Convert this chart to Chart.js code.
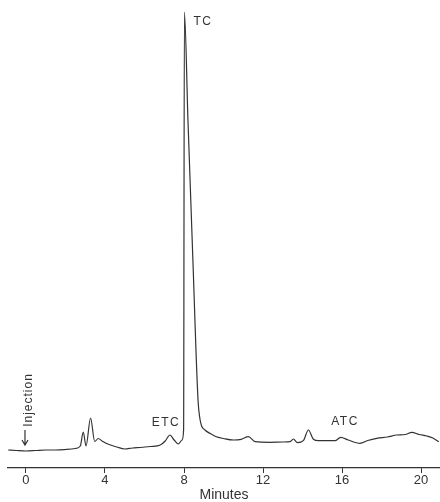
<!DOCTYPE html>
<html>
<head>
<meta charset="utf-8">
<script src="https://cdn.jsdelivr.net/npm/chart.js@4/dist/chart.umd.min.js"></script>
<style>
  html, body { margin: 0; padding: 0; background: #fff; }
  #wrap { width: 440px; height: 502px; }
</style>
</head>
<body>
<div id="wrap"><canvas id="chrom"></canvas></div>
<script>
// ********************* data ***********************
const minutes = [
  -0.9, -0.5, 0, 0.5, 1.0, 1.5, 2.0, 2.5, 2.75, 2.9, 3.04, 3.27, 3.48, 3.66, 3.85,
  4.08, 4.6, 5.0, 5.4, 5.8, 6.3, 6.8, 7.05, 7.29, 7.5, 7.71, 7.9, 7.98, 8.02,
  8.2, 8.45, 8.71, 8.8, 8.89, 9.06, 9.32, 9.6, 10.0, 10.5, 10.9, 11.26, 11.6, 12.35,
  13.0, 13.37, 13.54, 13.74, 14.04, 14.3, 14.55, 14.8, 15.65, 15.93, 16.32,
  16.91, 17.3, 17.76, 18.3, 18.77, 19.2, 19.53, 19.9, 20.29, 20.6, 20.9
];
const response = [
  18, 17.5, 17, 17.5, 18, 18, 18.5, 19.5, 22, 36, 22, 50, 26.5, 29.5, 27,
  24.5, 21, 19, 20, 20.5, 21.5, 23, 27, 33, 28, 24, 28, 38, 456,
  348, 208, 68, 50, 42, 38, 34.5, 31.5, 29.5, 28, 28.7, 31.3, 26.3, 25.7,
  26, 26.3, 29, 25.3, 27.3, 38, 28.7, 27.3, 27.3, 30.7, 28,
  24.7, 27.5, 29.7, 31, 33, 33.5, 35.7, 33.5, 32, 30, 26.3
];
const tickMinutes = [0, 4, 8, 12, 16, 20];

// peak labels
const peakNames = ['TC', 'ETC', 'ATC'];
const peakTimes = [8.96, 7.09, 16.15];
const peakLabelLevel = [446, 45, 46];

const points = minutes.map((t, i) => ({ x: t, y: response[i] }));

const ink = '#333333';
const labelFont = '"Liberation Sans", Arial, sans-serif';

// ********************* labels plugin ***********************
const peakLabels = {
  id: 'peakLabels',
  afterDatasetsDraw(chart) {
    const ctx = chart.ctx;
    const xs = chart.scales.x;
    const ys = chart.scales.y;
    ctx.save();
    ctx.fillStyle = ink;
    ctx.strokeStyle = ink;
    ctx.font = '12px ' + labelFont;
    ctx.letterSpacing = '1.5px';
    ctx.textAlign = 'center';
    ctx.textBaseline = 'middle';
    peakNames.forEach((name, i) => {
      ctx.fillText(name, xs.getPixelForValue(peakTimes[i]), ys.getPixelForValue(peakLabelLevel[i]));
    });

    // injection mark
    ctx.save();
    ctx.translate(xs.getPixelForValue(0.15), ys.getPixelForValue(68));
    ctx.rotate(-Math.PI / 2);
    ctx.letterSpacing = '1px';
    ctx.fillText('Injection', 0, 0);
    ctx.restore();

    const ax = xs.getPixelForValue(-0.05);
    const a0 = ys.getPixelForValue(38);
    const a1 = ys.getPixelForValue(23);
    ctx.lineWidth = 1.2;
    ctx.beginPath();
    ctx.moveTo(ax, a0);
    ctx.lineTo(ax, a1);
    ctx.moveTo(ax - 3, a1 - 5);
    ctx.lineTo(ax, a1);
    ctx.lineTo(ax + 3, a1 - 5);
    ctx.stroke();
    ctx.restore();
  }
};

// ********************* chart ***********************
const config = {
  type: 'line',
  data: {
    datasets: [{
      label: 'Detector response',
      data: points,
      borderColor: ink,
      borderWidth: 1.2,
      pointRadius: 0,
      fill: false,
      cubicInterpolationMode: 'monotone',
    }]
  },
  options: {
    responsive: true,
    maintainAspectRatio: false,
    animation: false,
    layout: { padding: { left: 8, right: 0, top: 10, bottom: 0 } },
    plugins: {
      legend: { display: false },
      tooltip: { enabled: false }
    },
    scales: {
      x: {
        type: 'linear',
        min: -0.91,
        max: 20.96,
        afterBuildTicks: (axis) => { axis.ticks = tickMinutes.map(v => ({ value: v })); },
        grid: {
          drawOnChartArea: false,
          drawTicks: true,
          tickLength: 5,
          color: ink
        },
        border: { display: true, color: ink, width: 1.2 },
        ticks: {
          padding: 1,
          color: ink,
          maxRotation: 0,
          font: { family: labelFont, size: 13, lineHeight: 1.0 }
        },
        title: {
          display: true,
          text: 'Minutes',
          color: ink,
          padding: { top: 0, bottom: 0 },
          font: { family: labelFont, size: 14, lineHeight: 1.0 }
        }
      },
      y: {
        display: false,
        min: 0,
        max: 458
      }
    }
  },
  plugins: [peakLabels]
};

const chrom = new Chart(document.getElementById('chrom'), config);
</script>
</body>
</html>
